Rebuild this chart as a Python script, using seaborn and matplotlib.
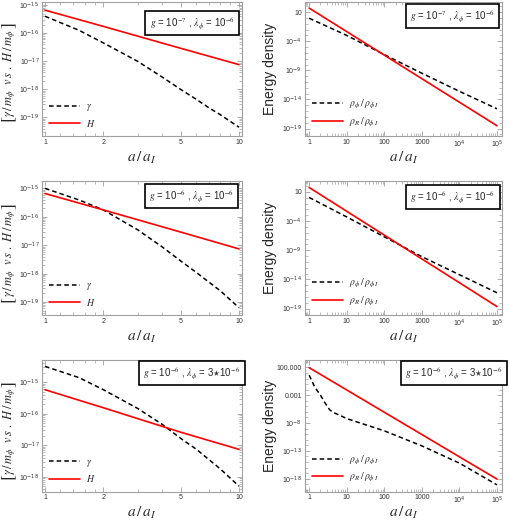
import matplotlib
matplotlib.use("Agg")
import matplotlib.pyplot as plt
import matplotlib.ticker as mticker
import seaborn as sns

# a / a_I sample points
a_short = [1, 1.5, 2, 3, 4, 5, 6, 7, 8, 10]
a_h = [1, 2, 5, 10]
a_long = [1, 10, 100, 1e3, 1e4, 1e5]
a_curve = [1, 1.4, 2, 2.6, 3.5, 4.3, 7, 10, 100, 1e3, 1e4, 1e5]

# gamma / m_phi and H / m_phi (left column)
gamma_1 = [4.0e-16, 1.26e-16, 4.5e-17, 1.0e-17, 2.8e-18, 1.0e-18, 4.5e-19, 2.2e-19, 1.26e-19, 4.5e-20]
gamma_2 = [1.0e-15, 3.9e-16, 1.74e-16, 3.5e-17, 8.9e-18, 2.8e-18, 1.12e-18, 5.0e-19, 2.5e-19, 6.3e-20]
gamma_3 = [3.2e-15, 1.4e-15, 5.8e-16, 1.48e-16, 4.7e-17, 1.66e-17, 7.6e-18, 3.5e-18, 1.78e-18, 5.0e-19]
H_1 = [6.6e-16, 1.74e-16, 2.9e-17, 7.6e-18]
H_2 = [6.6e-16, 1.74e-16, 2.9e-17, 7.4e-18]
H_3 = [5.8e-16, 1.55e-16, 2.6e-17, 7.4e-18]

# energy densities (right column)
rho_phi_1 = [0.89, 1e-3, 5e-7, 3.2e-10, 2.5e-13, 2.5e-16]
rho_R_1 = [49, 4.5e-3, 4.1e-7, 3.7e-11, 3.4e-15, 3.1e-19]
rho_phi_2 = [1.1, 5e-4, 2e-7, 7.9e-11, 6.3e-14, 5e-17]
rho_R_2 = [56, 4.7e-3, 3.9e-7, 3.2e-11, 2.7e-15, 2.2e-19]
rho_phi_3 = [4.0, 3.2e-2, 1e-3, 5e-5, 2.5e-6, 8.5e-7, 2e-7, 6.3e-8, 4e-10, 7.9e-13, 6.3e-16, 7.9e-20]
rho_R_3 = [89, 8.9e-3, 8.7e-7, 8.7e-11, 8.5e-15, 8.5e-19]

params = [r"$g$ = 10$^{-7}$ , $\lambda_\phi$ = 10$^{-6}$",
          r"$g$ = 10$^{-6}$ , $\lambda_\phi$ = 10$^{-6}$",
          r"$g$ = 10$^{-6}$ , $\lambda_\phi$ = 3$\star$10$^{-6}$"]

left_ylims = [(2.2e-20, 1.32e-15), (3.5e-20, 1.86e-15), (3.4e-19, 5.1e-15)]
left_yticks = [[1e-15, 1e-16, 1e-17, 1e-18, 1e-19],
               [1e-15, 1e-16, 1e-17, 1e-18, 1e-19],
               [1e-15, 1e-16, 1e-17, 1e-18]]
left_ylabels = [["10$^{-15}$", "10$^{-16}$", "10$^{-17}$", "10$^{-18}$", "10$^{-19}$"],
                ["10$^{-15}$", "10$^{-16}$", "10$^{-17}$", "10$^{-18}$", "10$^{-19}$"],
                ["10$^{-15}$", "10$^{-16}$", "10$^{-17}$", "10$^{-18}$"]]
right_ylims = [(5.4e-21, 617), (7.9e-21, 813), (5e-21, 2140)]
right_yticks = [[10, 1e-4, 1e-9, 1e-14, 1e-19],
                [10, 1e-4, 1e-9, 1e-14, 1e-19],
                [100, 1e-3, 1e-8, 1e-13, 1e-18]]
right_ylabels = [["10", "10$^{-4}$", "10$^{-9}$", "10$^{-14}$", "10$^{-19}$"],
                 ["10", "10$^{-4}$", "10$^{-9}$", "10$^{-14}$", "10$^{-19}$"],
                 ["100.000", "0.001", "10$^{-8}$", "10$^{-13}$", "10$^{-18}$"]]

sns.set_style("ticks")
plt.rcParams["font.family"] = ["Liberation Sans", "DejaVu Sans"]
plt.rcParams["mathtext.fontset"] = "dejavusans"

fig = plt.figure(figsize=(5.09, 5.25), dpi=100)
rows = [(0.741, 0.2558), (0.400, 0.2558), (0.0638, 0.2505)]
box_pos = [[(0.75, 0.84), (0.749, 0.895)],
           [(0.748, 0.886), (0.751, 0.879)],
           [(0.75, 0.90), (0.756, 0.90)]]
ylab_y = [0.47, 0.46, 0.46]

left_data = [(gamma_1, H_1), (gamma_2, H_2), (gamma_3, H_3)]
right_data = [(rho_phi_1, a_long, rho_R_1), (rho_phi_2, a_long, rho_R_2), (rho_phi_3, a_curve, rho_R_3)]


def style(ax):
    for s in ax.spines.values():
        s.set_color("#a0a0a0")
        s.set_linewidth(0.8)
    ax.tick_params(which="both", direction="in", top=True, right=True,
                   color="#a0a0a0", labelsize=5, labelcolor="#333333", pad=2)
    ax.tick_params(which="major", length=3.5, width=0.6)
    ax.tick_params(which="minor", length=2, width=0.5)


def add_box(ax, text, pos):
    t = ax.text(pos[0], pos[1], text, transform=ax.transAxes, ha="center", va="center",
                fontsize=7, bbox=dict(boxstyle="square,pad=0.45", fc="white", ec="black", lw=1.2))
    t.set_math_fontfamily("stix")


def add_legend(ax):
    leg = ax.legend(loc="lower left", bbox_to_anchor=(0.0, 0.0), frameon=False, fontsize=7,
                    handlelength=3.2, labelspacing=0.45, borderaxespad=0.35, handletextpad=0.6)
    for t in leg.get_texts():
        t.set_math_fontfamily("stix")


left_axes = []
for i in range(3):
    bottom, height = rows[i]

    # left column: gamma vs H
    ax = fig.add_axes([0.0825, bottom, 0.393, height])
    g, h = left_data[i]
    sns.lineplot(x=a_short, y=g, ax=ax, color="black", lw=1.1, linestyle=(0, (3, 2)), label=r"$\gamma$")
    sns.lineplot(x=a_h, y=h, ax=ax, color="#ff0000", lw=1.2, label=r"$H$")
    ax.set_xscale("log")
    ax.set_yscale("log")
    ax.set_xlim(0.965, 10.36)
    ax.set_ylim(*left_ylims[i])
    ax.xaxis.set_major_locator(mticker.FixedLocator([1, 2, 5, 10]))
    ax.xaxis.set_major_formatter(mticker.FixedFormatter(["1", "2", "5", "10"]))
    ax.xaxis.set_minor_locator(mticker.FixedLocator([1.2, 1.4, 1.6, 1.8, 3, 4, 6, 7, 8, 9]))
    ax.xaxis.set_minor_formatter(mticker.NullFormatter())
    ax.yaxis.set_major_locator(mticker.FixedLocator(left_yticks[i]))
    ax.yaxis.set_major_formatter(mticker.FixedFormatter(left_ylabels[i]))
    ax.yaxis.set_minor_locator(mticker.LogLocator(base=10, subs=range(2, 10), numticks=50))
    ax.yaxis.set_minor_formatter(mticker.NullFormatter())
    style(ax)
    ax.set_xlabel(r"$a\,/\,a_I$", fontsize=11, math_fontfamily="stix")
    ax.set_ylabel(r"$\gamma\,/\,m_\phi\ \ v\,s\ .\ H\,/\,m_\phi$", fontsize=9,
                  math_fontfamily="stix")
    ax.xaxis.set_label_coords(0.5, -0.165)
    ax.xaxis.label.set_verticalalignment("center")
    ax.yaxis.set_label_coords(-0.16, ylab_y[i])
    ax.yaxis.label.set_verticalalignment("center")
    add_legend(ax)
    add_box(ax, params[i], box_pos[i][0])
    left_axes.append(ax)

    # right column: energy densities
    ax = fig.add_axes([0.599, bottom, 0.387, height])
    rp, ac, rr = right_data[i]
    sns.lineplot(x=ac, y=rp, ax=ax, color="black", lw=1.1, linestyle=(0, (3, 2)),
                 label=r"$\rho_\phi\,/\,\rho_{\phi\,I}$")
    sns.lineplot(x=a_long, y=rr, ax=ax, color="#ff0000", lw=1.2, label=r"$\rho_R\,/\,\rho_{\phi\,I}$")
    ax.set_xscale("log")
    ax.set_yscale("log")
    ax.set_xlim(0.77, 1.35e5)
    ax.set_ylim(*right_ylims[i])
    ax.xaxis.set_major_locator(mticker.FixedLocator(a_long))
    ax.xaxis.set_major_formatter(mticker.FixedFormatter(["1", "10", "100", "1000", "10$^{4}$", "10$^{5}$"]))
    ax.xaxis.set_minor_locator(mticker.LogLocator(base=10, subs=range(2, 10), numticks=50))
    ax.xaxis.set_minor_formatter(mticker.NullFormatter())
    ax.yaxis.set_major_locator(mticker.FixedLocator(right_yticks[i]))
    ax.yaxis.set_major_formatter(mticker.FixedFormatter(right_ylabels[i]))
    ax.yaxis.set_minor_locator(mticker.LogLocator(base=10, subs=(1.0,), numticks=60))
    ax.yaxis.set_minor_formatter(mticker.NullFormatter())
    style(ax)
    ax.set_xlabel(r"$a\,/\,a_I$", fontsize=11, math_fontfamily="stix")
    ax.set_ylabel("Energy density", fontsize=10)
    ax.xaxis.set_label_coords(0.5, -0.165)
    ax.xaxis.label.set_verticalalignment("center")
    ax.yaxis.set_label_coords(-0.178, 0.5)
    ax.yaxis.label.set_verticalalignment("center")
    add_legend(ax)
    add_box(ax, params[i], box_pos[i][1])

# tall square brackets around the left y labels
fig.canvas.draw()
for ax in left_axes:
    bb = ax.yaxis.label.get_window_extent()
    xc = (bb.x0 + bb.x1) / 2
    inv = ax.transAxes.inverted()
    for ch, yy in (("[", bb.y0 - 3), ("]", bb.y1 + 3)):
        px, py = inv.transform((xc, yy))
        t = ax.text(px, py, "$" + ch + "$", transform=ax.transAxes, rotation=90, fontsize=13,
                    ha="center", va="center")
        t.set_math_fontfamily("stix")

fig.savefig("out.png", dpi=100)
